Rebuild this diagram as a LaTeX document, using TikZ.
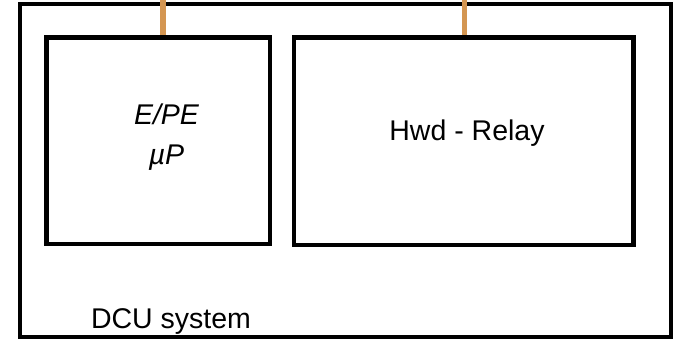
\documentclass[tikz,border=0pt]{standalone}
\usepackage{fontspec}
\setmainfont{Liberation Sans}
\definecolor{wire}{RGB}{212,150,82}
\begin{document}
\begin{tikzpicture}[x=1pt,y=-1pt,
  box/.style={draw=black,line width=4.8pt,inner sep=0pt},
  wirestyle/.style={draw=wire,line width=5.5pt},
  lbl/.style={font=\fontsize{28.5}{34}\selectfont,inner sep=0pt,anchor=base}]
\useasboundingbox (0,0) rectangle (674,340);
\node[box,line width=4.5pt,minimum width=651pt,minimum height=333pt] (sys) at (345.5,170.5) {};
\node[box,minimum width=223.5pt,minimum height=206.5pt] (up) at (158.25,140.75) {};
\node[box,minimum width=339.5pt,minimum height=207.5pt] (relay) at (463.75,141.25) {};
\coordinate (w1) at (163,0);
\coordinate (w2) at (464.5,0);
\draw[wirestyle] (w1) -- (w1 |- up.north);
\draw[wirestyle] (w2) -- (w2 |- relay.north);
\node[lbl] (t1) at (166.5,124) {\itshape E/PE};
\node[lbl] (t2) at (166.5,164) {\itshape µP};
\node[lbl] (t3) at (467,140) {Hwd - Relay};
\node[lbl] (t4) at (171,328) {DCU system};
\end{tikzpicture}
\end{document}
